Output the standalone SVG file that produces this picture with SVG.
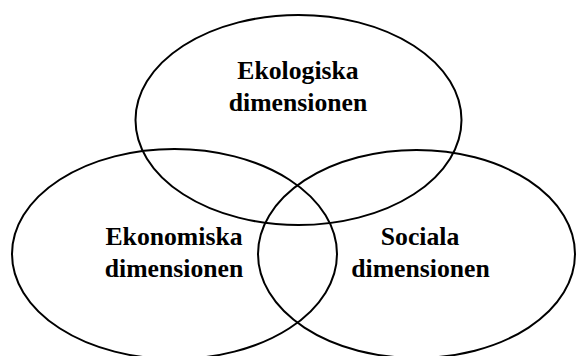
<svg xmlns="http://www.w3.org/2000/svg" width="576" height="356" viewBox="0 0 576 356">
<style>
.c{fill:none;stroke:#000;stroke-width:2}
.t{font-family:"Liberation Serif","Times New Roman",serif;font-weight:bold;font-size:25.7px;fill:#000;text-anchor:middle}
</style>
<rect width="576" height="356" fill="#fff"/>
<g id="ekologiska">
<ellipse class="c" cx="298.5" cy="120" rx="163" ry="105"/>
<text class="t" x="298" y="79">Ekologiska</text>
<text class="t" x="298" y="111">dimensionen</text>
</g>
<g id="ekonomiska">
<ellipse class="c" cx="174.5" cy="254" rx="162.5" ry="105"/>
<text class="t" x="174" y="245">Ekonomiska</text>
<text class="t" x="174" y="277">dimensionen</text>
</g>
<g id="sociala">
<ellipse class="c" cx="416.5" cy="254" rx="158.5" ry="104"/>
<text class="t" x="420" y="245">Sociala</text>
<text class="t" x="420.5" y="277">dimensionen</text>
</g>
<g id="connectors"></g>
</svg>
